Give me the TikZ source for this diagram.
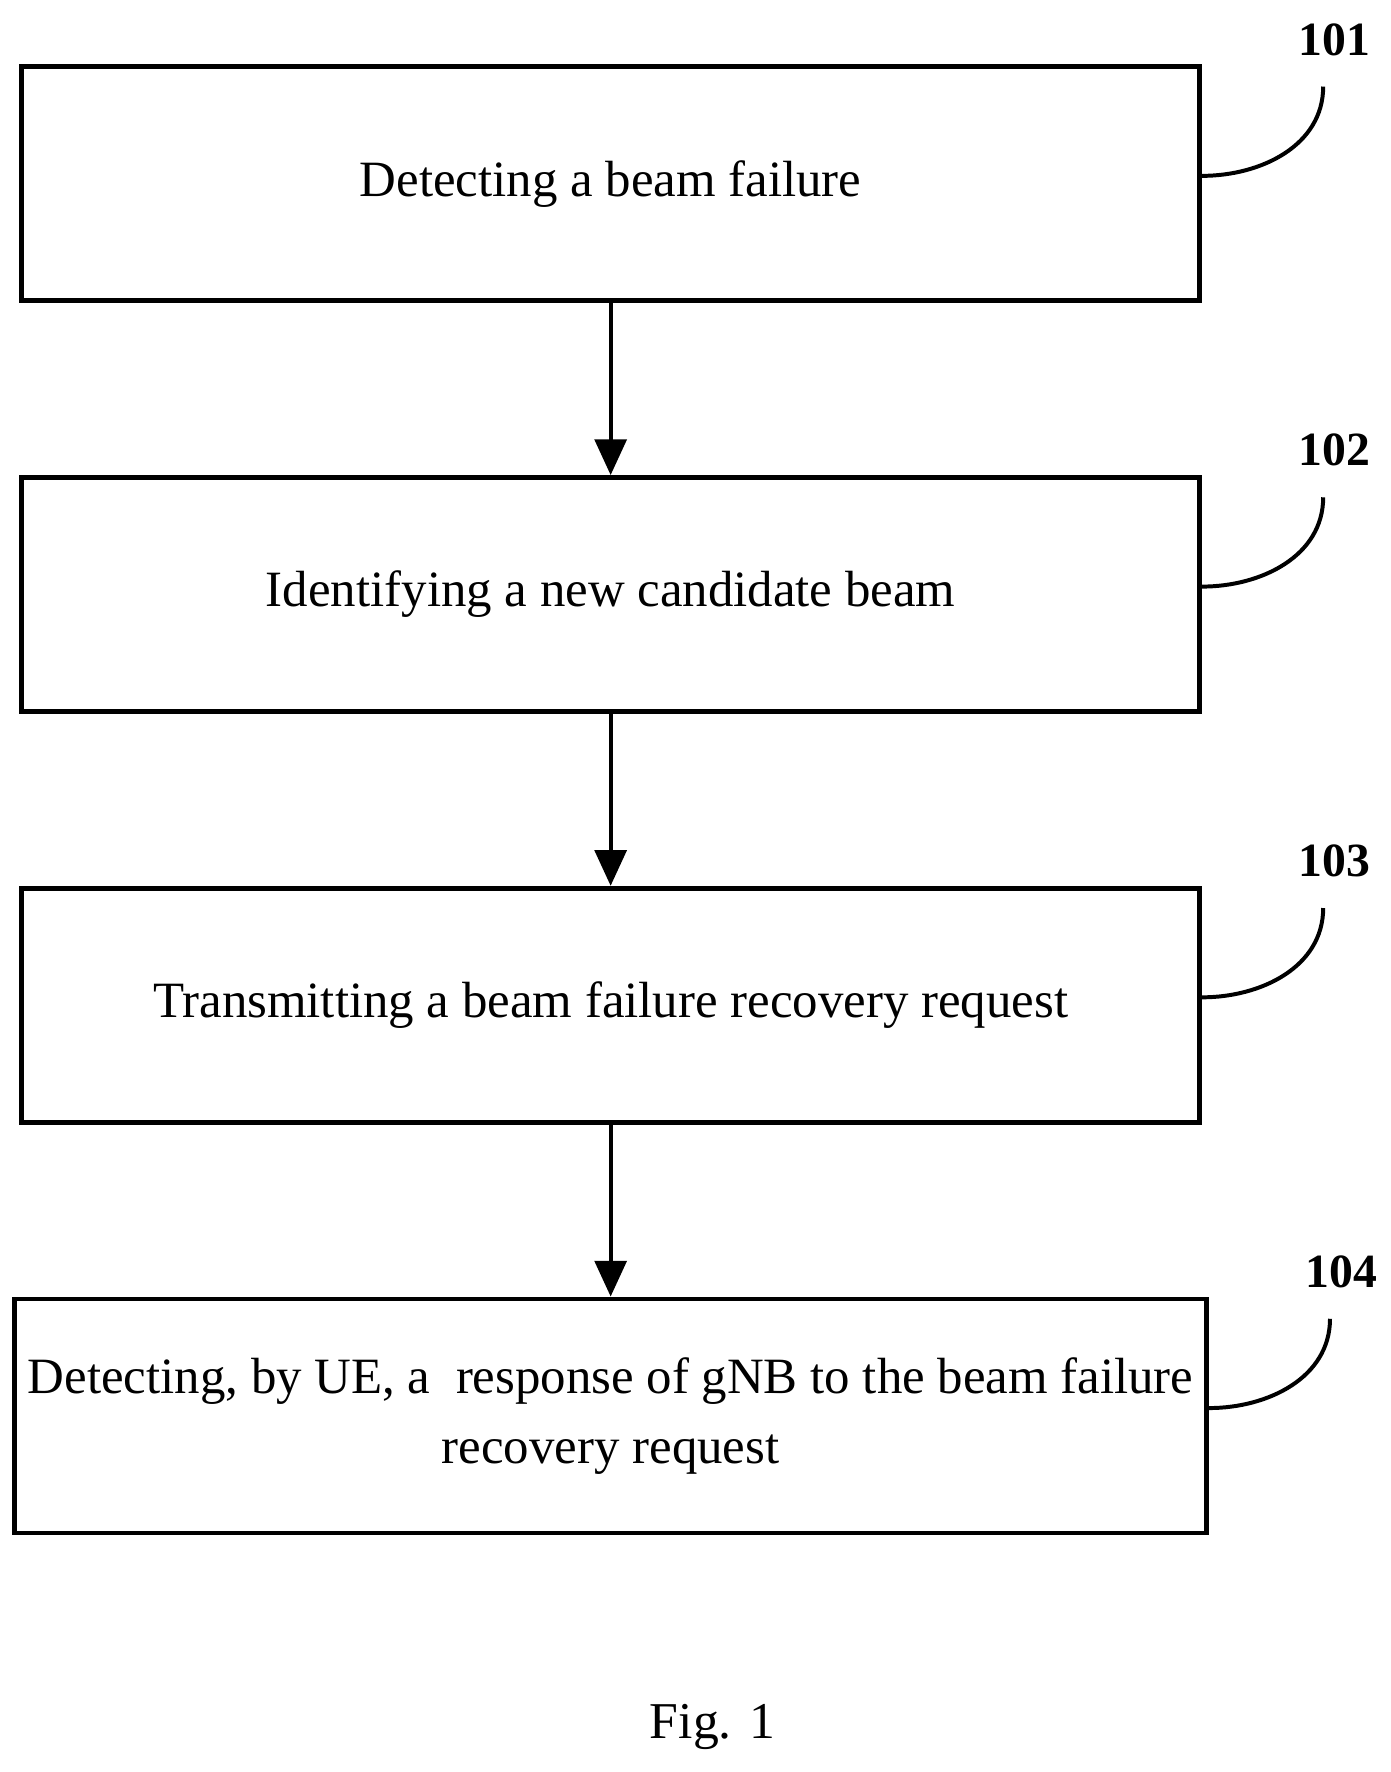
\documentclass[tikz,border=0pt]{standalone}
\usepackage{fontspec}
\setmainfont{Liberation Serif}
\usetikzlibrary{positioning,arrows.meta}
\begin{document}
\begin{tikzpicture}[
    stepbox/.style={draw, line width=1.2pt, minimum width=10.42cm, minimum height=2.07cm,
      align=center, font=\fontsize{12.8}{17.5}\selectfont},
    flow/.style={-{Triangle[length=9pt,width=8pt]}, line width=1pt},
    lbl/.style={font=\fontsize{12}{14}\selectfont\bfseries}
  ]
  \useasboundingbox (0,0) rectangle (12.3,-15.67);
  % steps
  \node[stepbox] (s1) at (5.40,-1.625) {Detecting a beam failure};
  \node[stepbox, below=1.52cm of s1] (s2) {Identifying a new candidate beam};
  \node[stepbox, below=1.52cm of s2] (s3) {Transmitting a beam failure recovery request};
  \node[stepbox, below=1.52cm of s3] (s4) {Detecting, by UE, a \ response of gNB to the beam failure\\recovery request};
  % arrows
  \draw[flow] (s1) -- (s2);
  \draw[flow] (s2) -- (s3);
  \draw[flow] (s3) -- (s4);
  % reference numbers
  \foreach \n/\s in {101/s1, 102/s2, 103/s3, 104/s4} {
    \node[lbl] (l\n) at ([xshift=1.17cm, yshift=0.22cm]\s.north east) {\n};
    \draw[line width=1pt] ([yshift=0.07cm]\s.east) to[out=0, in=-90] ([xshift=-0.1cm, yshift=-0.15cm]l\n.south);
  }
  \node[font=\fontsize{13}{15}\selectfont] (cap) at (6.3,-15.27) {Fig. 1};
\end{tikzpicture}
\end{document}
